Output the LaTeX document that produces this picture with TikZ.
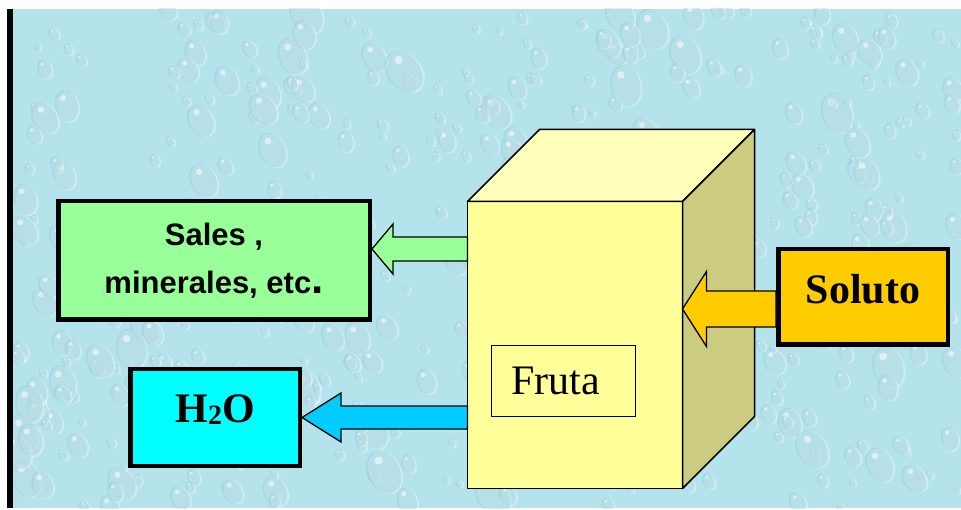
\documentclass[tikz,border=0pt]{standalone}
\usepackage{fontspec}
\setmainfont{Liberation Serif}
\setsansfont{Liberation Sans}
\usetikzlibrary{calc}

\definecolor{fondo}{HTML}{B4E3EC}
\definecolor{gota}{HTML}{8CC8D8}
\definecolor{verde}{HTML}{99FF99}
\definecolor{cian}{HTML}{00FFFF}
\definecolor{celeste}{HTML}{00CCFF}
\definecolor{oro}{HTML}{FFCC00}
\definecolor{cubofrente}{HTML}{FFFF99}
\definecolor{cubotapa}{HTML}{FFFFBB}
\definecolor{cubolado}{HTML}{CCCC80}

\begin{document}
\begin{tikzpicture}
  [x=1pt,y=-1pt,
   caja/.style={draw,line width=4.5pt,inner sep=0pt},
   flecha/.style={draw,line width=1.3pt,line join=miter},
   cara/.style={draw,line width=1.5pt,line join=round}]
  \useasboundingbox (0,0) rectangle (961,510);

  % fondo de gotas de agua
  \fill[fondo] (13,9) rectangle (961,508);
  \begin{scope}
    \clip (13,9) rectangle (961,508);
    \pgfmathsetseed{23}
    \foreach \i in {1,...,520}{
      \pgfmathsetmacro\gx{13+948*rnd}
      \pgfmathsetmacro\gy{9+499*rnd}
      \pgfmathsetmacro\gr{3+15*rnd*rnd}
      \pgfmathsetmacro\ga{10+30*rnd}
      \fill[white,opacity=.35,rotate around={\ga:(\gx,\gy)}]
        (\gx+1.5,\gy+1.5) ellipse [x radius=\gr, y radius=1.4*\gr];
      \fill[gota,opacity=.35,rotate around={\ga:(\gx,\gy)}]
        (\gx,\gy) ellipse [x radius=\gr, y radius=1.4*\gr];
      \fill[white,opacity=.55] (\gx-0.3*\gr,\gy-0.7*\gr) circle [radius=0.25*\gr];
    }
  \end{scope}
  \fill (7,9) rectangle (13,508);

  % cubo de fruta
  \node[cara,fill=cubofrente,outer sep=0pt,minimum width=215pt,minimum height=287pt] (frente) at (575,345) {};
  \draw[cara,fill=cubotapa] (frente.north west) -- ++(72,-72) -- ++(215,0) -- (frente.north east) -- cycle;
  \draw[cara,fill=cubolado] (frente.north east) -- ++(72,-72) -- ++(0,287) -- (frente.south east) -- cycle;
  \node[draw,line width=.8pt,fill=cubofrente,text width=104pt,inner xsep=20pt,inner ysep=0pt,
        minimum height=71pt,align=left,font=\fontsize{42}{42}\selectfont] (fruta) at (563,381) {Fruta};

  % cajas
  \node[caja,fill=verde,minimum width=311.5pt,minimum height=118.5pt,align=center,
        font=\sffamily\bfseries\fontsize{31}{48}\selectfont] (sales) at (214,260.5)
        {Sales ,\\minerales, etc{\fontsize{44}{48}\selectfont.}};
  \node[caja,fill=cian,minimum width=169.5pt,minimum height=96.5pt,text depth=17pt,
        font=\bfseries\fontsize{42}{42}\selectfont] (agua) at (215,417.5)
        {H\raisebox{-2pt}{\fontsize{28}{28}\selectfont 2}O};
  \node[caja,fill=oro,minimum width=169.5pt,minimum height=95.5pt,text depth=16pt,
        font=\bfseries\fontsize{42}{42}\selectfont] (soluto) at (863,297) {Soluto};

  % flechas
  \draw[flecha,fill=verde] let \p1=($(sales.east)+(0,-11.5)$), \p2=(frente.west) in
    (\x1,\y1) -- (\x1+21,\y1+25) -- (\x1+21,\y1+12) -- (\x2,\y1+12)
    -- (\x2,\y1-12) -- (\x1+21,\y1-12) -- (\x1+21,\y1-25) -- cycle;
  \draw[flecha,fill=celeste] let \p1=(agua.east), \p2=(frente.west) in
    (\x1,\y1) -- (\x1+39,\y1+24.5) -- (\x1+39,\y1+11.5) -- (\x2,\y1+11.5)
    -- (\x2,\y1-11.5) -- (\x1+39,\y1-11.5) -- (\x1+39,\y1-24.5) -- cycle;
  \draw[flecha,fill=oro] let \p1=($(frente.east |- soluto.center)+(0,12)$), \p2=(soluto.west) in
    (\x1,\y1) -- (\x1+24,\y1+37.5) -- (\x1+24,\y1+18) -- (\x2,\y1+18)
    -- (\x2,\y1-18) -- (\x1+24,\y1-18) -- (\x1+24,\y1-37.5) -- cycle;
\end{tikzpicture}
\end{document}
